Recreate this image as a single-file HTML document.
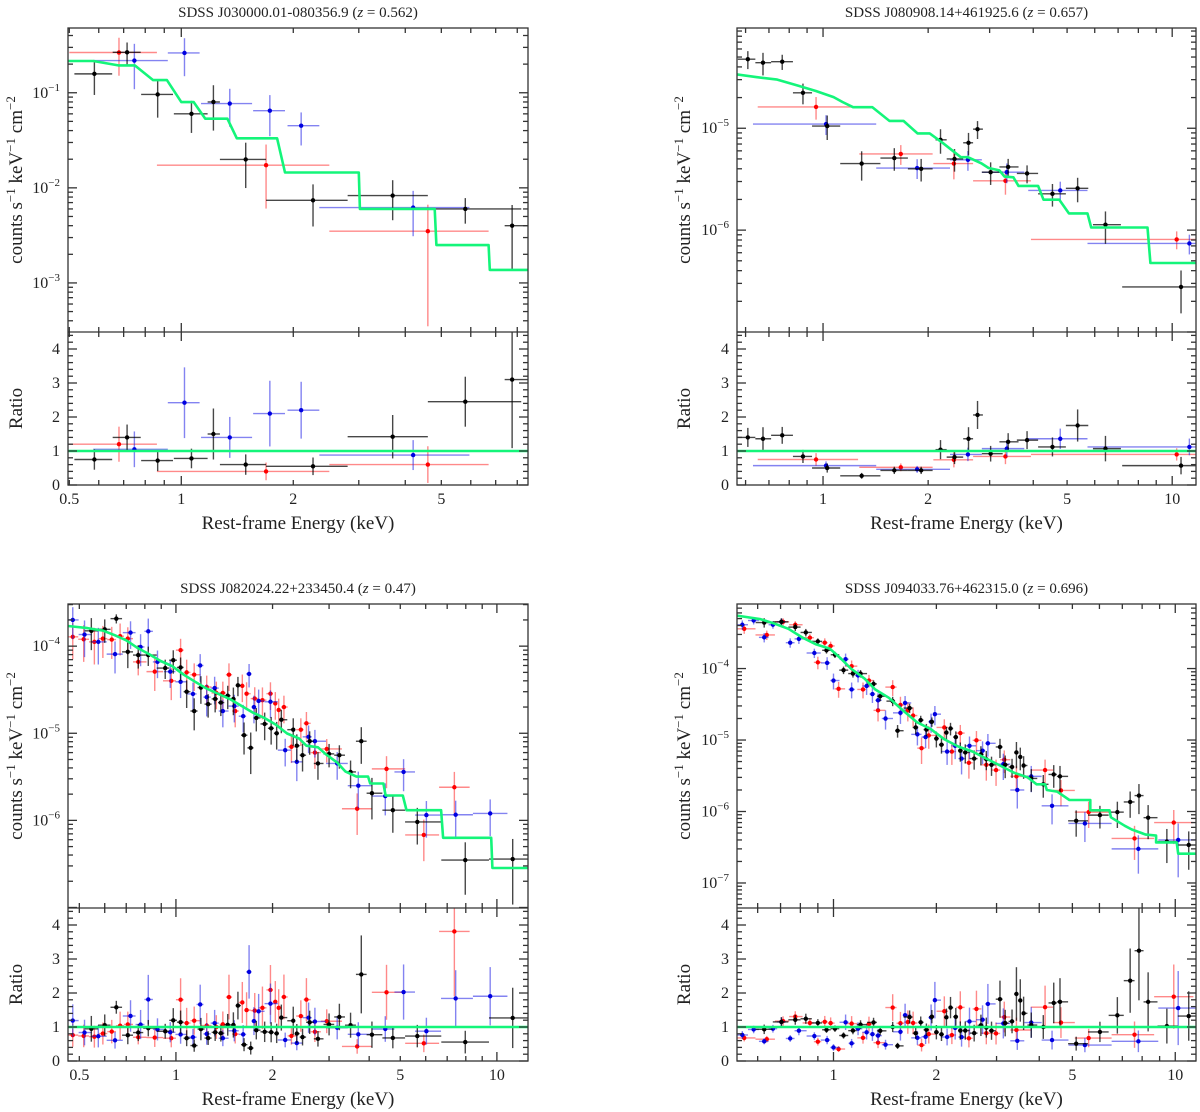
<!DOCTYPE html>
<html><head><meta charset="utf-8"><style>
html,body{margin:0;padding:0;background:#fff;}
svg{display:block;font-family:"Liberation Serif",serif;}
svg text{font-family:"Liberation Serif",serif;}
</style></head>
<body>
<svg id="fig" width="1200" height="1112" viewBox="0 0 1200 1112" font-family="Liberation Serif, serif" xmlns="http://www.w3.org/2000/svg"></svg>
<script>
// ---------- Panel 1: SDSS J030000.01-080356.9 ----------
const p1_black_E  = [0.584,0.715,0.864,1.065,1.22,1.49,2.26,3.7,5.8,7.75];
const p1_black_V  = [0.158,0.266,0.096,0.060,0.080,0.0199,0.0074,0.0083,0.0060,0.0040];
const p1_black_R  = [0.75,1.4,0.72,0.78,1.5,0.6,0.55,1.42,2.45,3.1];
const p1_black_F  = [.4,.27,.43,.37,.5,.5,.47,.45,.3,.65];
const p1_black_lo = [0.516,0.654,0.78,0.955,1.177,1.27,1.69,2.8,4.6,7.4];
const p1_black_hi = [0.652,0.778,0.95,1.177,1.27,1.69,2.8,4.6,8.2,8.55];
const p1_red_E  = [0.68,1.69,4.6];
const p1_red_V  = [0.265,0.0173,0.0035];
const p1_red_R  = [1.2,0.4,0.6];
const p1_red_F  = [.43,.65,.9];
const p1_red_lo = [0.5,0.86,2.5];
const p1_red_hi = [0.86,2.5,6.7];
const p1_blue_E  = [0.748,1.02,1.35,1.73,2.1,4.2];
const p1_blue_V  = [0.218,0.262,0.077,0.0647,0.045,0.0062];
const p1_blue_R  = [1.05,2.42,1.4,2.1,2.2,0.88];
const p1_blue_F  = [.5,.43,.43,.46,.38,.5];
const p1_blue_lo = [0.58,0.92,1.13,1.56,1.93,2.35];
const p1_blue_hi = [0.92,1.12,1.55,1.9,2.35,5.95];
const p1_model_E = [0.496,0.58,0.677,0.75,0.84,0.915,1.0,1.08,1.16,1.33,1.41,1.81,1.90,3.0,3.02,4.8,4.85,6.7,6.75,8.55];
const p1_model_V = [0.216,0.216,0.194,0.194,0.136,0.136,0.0798,0.0798,0.0534,0.0534,0.0332,0.0332,0.0145,0.0145,0.006,0.006,0.0025,0.0025,0.00137,0.00137];

// ---------- Panel 2: SDSS J080908.14+461925.6 ----------
const p2_black_E  = [0.609,0.673,0.764,0.876,1.028,1.29,1.60,1.91,2.17,2.38,2.61,2.77,3.02,3.39,3.84,4.54,5.36,6.44,10.6];
const p2_black_V  = [4.76e-5,4.4e-5,4.5e-5,2.23e-5,1.05e-5,4.5e-6,5.1e-6,4.0e-6,7.7e-6,5.0e-6,7.2e-6,9.8e-6,3.7e-6,4.17e-6,3.6e-6,2.27e-6,2.57e-6,1.13e-6,2.77e-7];
const p2_black_R  = [1.4,1.36,1.46,0.84,0.5,0.27,0.43,0.43,1.04,0.82,1.36,2.06,0.92,1.27,1.32,1.12,1.75,1.07,0.57];
const p2_black_F  = [.2,.25,.17,.23,.27,.32,.25,.25,.27,.25,.25,.2,.25,.2,.2,.25,.27,.35,.45];
const p2_black_lo = [0.57,0.64,0.71,0.82,0.93,1.12,1.46,1.75,2.1,2.26,2.52,2.69,2.85,3.2,3.59,4.13,4.96,5.93,7.19];
const p2_black_hi = [0.64,0.71,0.82,0.93,1.12,1.46,1.75,2.06,2.26,2.52,2.69,2.87,3.27,3.63,4.13,4.96,5.75,7.13,11.9];
const p2_red_E  = [0.955,1.67,2.37,3.33,10.3];
const p2_red_V  = [1.62e-5,5.6e-6,4.5e-6,3.05e-6,8.1e-7];
const p2_red_R  = [0.75,0.52,0.74,0.84,0.9];
const p2_red_F  = [.25,.22,.3,.27,.2];
const p2_red_lo = [0.65,1.27,2.07,2.69,3.94];
const p2_red_hi = [1.26,2.06,2.69,3.94,11.9];
const p2_blue_E  = [1.02,1.86,2.6,3.36,4.78,11.2];
const p2_blue_V  = [1.1e-5,4.07e-6,4.9e-6,3.7e-6,2.45e-6,7.4e-7];
const p2_blue_R  = [0.57,0.46,0.9,1.07,1.36,1.12];
const p2_blue_F  = [.22,.22,.22,.22,.22,.22];
const p2_blue_lo = [0.63,1.42,2.31,2.85,3.87,5.72];
const p2_blue_hi = [1.42,2.31,2.85,3.77,5.72,11.9];
const p2_model_E = [0.566,0.643,0.739,0.85,0.954,1.072,1.137,1.219,1.385,1.549,1.7,1.865,2.02,2.2,2.48,2.6,2.85,2.98,3.2,3.31,3.51,3.63,4.13,4.28,4.75,5.06,5.72,5.86,8.5,8.66,11.9];
const p2_model_V = [3.38e-5,3.18e-5,3.0e-5,2.61e-5,2.32e-5,2.02e-5,1.81e-5,1.61e-5,1.61e-5,1.18e-5,1.18e-5,8.9e-6,8.9e-6,7.2e-6,5.2e-6,5.2e-6,4.5e-6,4.07e-6,3.86e-6,3.35e-6,3.3e-6,2.72e-6,2.72e-6,1.99e-6,1.99e-6,1.46e-6,1.46e-6,1.06e-6,1.06e-6,4.76e-7,4.76e-7];

// ---------- Panel 3: SDSS J082024.22+233450.4 ----------
const p3_black_E = [0.545,0.60,0.652,0.708,0.763,0.82,0.926,0.981,1.034,1.08,1.14,1.196,1.26,1.325,1.38,1.45,1.51,1.56,1.63,1.71,1.78,1.89,1.98,2.06,2.13,2.32,2.38,2.48,2.61,2.77,3.0,3.23,3.5,3.78,4.08,4.74,5.65,7.97,11.2];
const p3_black_V = [1.5e-4,1.56e-4,2.07e-4,8.6e-5,7.9e-5,7.9e-5,5.6e-5,6.9e-5,5.7e-5,3.0e-5,1.8e-5,3.35e-5,2.16e-5,2.48e-5,2.25e-5,2.7e-5,2.48e-5,3.55e-5,9.5e-6,6.8e-6,1.5e-5,1.28e-5,1.14e-5,1.0e-5,1.43e-5,1.1e-5,7.2e-6,5.6e-6,8.1e-6,4.5e-6,5.8e-6,5.6e-6,3.6e-6,8.1e-6,2.05e-6,1.31e-6,9.6e-7,3.5e-7,3.6e-7];
const p3_black_F = [.4,.3,.12,.35,.3,.25,.25,.3,.3,.35,.4,.35,.3,.3,.3,.3,.35,.25,.4,.5,.3,.35,.35,.35,.3,.35,.35,.35,.3,.35,.3,.3,.35,.45,.5,.45,.45,.6,.7];
const p3_red_E = [0.477,0.516,0.557,0.592,0.631,0.67,0.708,0.763,0.859,0.967,1.034,1.08,1.14,1.247,1.336,1.4,1.463,1.53,1.61,1.66,1.76,1.86,1.97,2.04,2.09,2.17,2.29,2.45,2.55,2.71,2.95,3.67,4.53,5.92,7.37];
const p3_red_V = [1.28e-4,1.2e-4,1.12e-4,1.22e-4,1.19e-4,1.3e-4,1.22e-4,6.6e-5,5.1e-5,4.0e-5,9.0e-5,5.0e-5,4.7e-5,3.4e-5,2.9e-5,2.9e-5,4.7e-5,1.8e-5,3.5e-5,2.85e-5,2.5e-5,2.4e-5,2.85e-5,2.2e-5,1.85e-5,2.0e-5,7.0e-6,1.1e-5,1.3e-5,6.0e-6,6.6e-6,1.36e-6,3.9e-6,6.8e-7,2.4e-6];
const p3_red_F = [.45,.45,.45,.4,.4,.4,.35,.3,.4,.4,.35,.4,.35,.35,.35,.35,.35,.35,.35,.35,.35,.4,.35,.35,.35,.35,.35,.35,.35,.35,.3,.5,.4,.5,.5];
const p3_blue_E = [0.477,0.519,0.573,0.646,0.722,0.776,0.82,0.876,0.96,1.034,1.13,1.19,1.247,1.32,1.4,1.52,1.62,1.69,1.75,1.81,1.97,2.19,2.38,2.59,2.71,3.18,3.7,4.49,5.12,6.03,7.44,9.53];
const p3_blue_V = [2.0e-4,1.36e-4,1.12e-4,8.1e-5,1.43e-4,9.8e-5,1.48e-4,6.6e-5,5.1e-5,3.9e-5,2.83e-5,6.0e-5,2.6e-5,3.3e-5,1.8e-5,2.05e-5,1.57e-5,4.8e-5,2.0e-5,2.35e-5,2.3e-5,6.4e-6,4.7e-6,9.1e-6,8.1e-6,4.5e-6,2.5e-6,1.9e-6,3.6e-6,1.15e-6,1.16e-6,1.2e-6];
const p3_blue_F = [.4,.45,.45,.4,.35,.4,.4,.35,.35,.35,.35,.35,.4,.35,.35,.35,.35,.3,.35,.35,.35,.35,.4,.35,.35,.35,.45,.4,.4,.45,.45,.45];
const p3_model_E = [0.458,0.53,0.592,0.643,0.699,0.759,0.824,0.896,0.973,1.057,1.148,1.247,1.354,1.47,1.6,1.74,1.885,2.05,2.22,2.42,2.55,2.77,2.93,3.18,3.37,3.65,3.97,4.03,4.43,4.5,5.09,5.23,6.7,6.8,9.6,9.68,12.6];
const p3_model_V = [1.71e-4,1.61e-4,1.51e-4,1.34e-4,1.17e-4,9.55e-5,8.1e-5,6.76e-5,5.9e-5,4.7e-5,3.9e-5,3.26e-5,2.84e-5,2.48e-5,2.06e-5,1.72e-5,1.5e-5,1.25e-5,9.95e-6,8.7e-6,7.2e-6,6.9e-6,5.75e-6,4.6e-6,3.65e-6,3.18e-6,3.18e-6,2.65e-6,2.65e-6,1.93e-6,1.93e-6,1.31e-6,1.31e-6,6.3e-7,6.3e-7,2.84e-7,2.84e-7];

// ---------- Panel 4: SDSS J094033.76+462315.0 ----------
const p4_black_E = [0.627,0.704,0.773,0.83,0.9,0.954,1.01,1.07,1.14,1.2,1.31,1.37,1.49,1.54,1.67,1.74,1.80,1.87,1.94,2.0,2.07,2.14,2.2,2.28,2.35,2.43,2.58,2.7,2.8,2.9,3.07,3.18,3.33,3.43,3.52,3.6,3.79,4.11,4.41,4.6,5.13,6.02,6.77,7.38,7.83,8.33,9.45,10.95];
const p4_black_V = [4.4e-4,4.5e-4,3.8e-4,3.2e-4,2.4e-4,1.8e-4,1.56e-4,9.5e-5,8.5e-5,8.5e-5,6.1e-5,4.1e-5,3.5e-5,1.35e-5,2.8e-5,1.5e-5,1.9e-5,1.4e-5,1.8e-5,1.05e-5,8.6e-6,1.27e-5,1.45e-5,1.1e-5,7.1e-6,6.7e-6,5.5e-6,6.3e-6,5.4e-6,4.5e-6,8.0e-6,4.5e-6,4.2e-6,6.7e-6,5.8e-6,4.4e-6,2.9e-6,2.4e-6,3.3e-6,3.1e-6,7.4e-7,8.9e-7,9.8e-7,1.36e-6,1.67e-6,8.2e-7,3.8e-7,3.4e-7];
const p4_black_F = [.15,.12,.12,.12,.1,.1,.1,.12,.12,.12,.12,.15,.15,.2,.15,.2,.15,.2,.15,.25,.25,.2,.2,.2,.3,.3,.3,.3,.3,.3,.3,.35,.3,.4,.35,.35,.35,.35,.35,.4,.4,.35,.4,.4,.45,.5,.5,.55];
const p4_red_E = [0.548,0.638,0.712,0.773,0.853,0.9,0.943,0.981,1.035,1.13,1.22,1.27,1.35,1.49,1.57,1.65,1.71,1.81,1.9,2.11,2.22,2.35,2.49,2.62,2.8,2.99,3.16,3.43,4.16,4.63,5.58,7.6,9.9];
const p4_red_V = [3.6e-4,2.95e-4,4.5e-4,4.1e-4,2.7e-4,1.22e-4,2.3e-4,2.07e-4,5.2e-5,1.08e-4,5.1e-5,6.8e-5,2.6e-5,5.5e-5,3.1e-5,2.6e-5,2.2e-5,7.7e-6,1.16e-5,1.5e-5,6.9e-6,1.25e-5,4.8e-6,9.9e-6,4.5e-6,3.8e-6,5.3e-6,3.1e-6,3.8e-6,1.97e-6,9.8e-7,4.2e-7,7.0e-7];
const p4_red_F = [.15,.15,.12,.12,.12,.2,.15,.15,.25,.2,.25,.2,.3,.25,.3,.3,.3,.4,.35,.3,.35,.3,.4,.35,.4,.4,.35,.4,.4,.4,.4,.5,.5];
const p4_blue_E = [0.541,0.584,0.627,0.665,0.704,0.747,0.792,0.879,0.958,1.0,1.085,1.13,1.18,1.25,1.3,1.35,1.42,1.57,1.62,1.76,1.86,1.93,1.98,2.15,2.27,2.37,2.5,2.73,2.83,3.14,3.45,3.79,4.36,5.44,7.8,10.2];
const p4_blue_V = [4.1e-4,4.7e-4,2.73e-4,4.1e-4,4.5e-4,2.3e-4,2.6e-4,1.65e-4,1.2e-4,6.8e-5,1.35e-4,5.1e-5,8.0e-5,5.7e-5,4.4e-5,3.6e-5,2.0e-5,2.4e-5,3.3e-5,1.2e-5,1.1e-5,1.8e-5,2.3e-5,6.9e-6,8.3e-6,5.5e-6,8.3e-6,7.1e-6,9.0e-6,4.6e-6,2.0e-6,3.1e-6,1.2e-6,6.8e-7,3.0e-7,4.0e-7];
const p4_blue_F = [.15,.12,.15,.12,.12,.15,.15,.15,.2,.25,.2,.25,.2,.25,.25,.25,.3,.3,.25,.3,.3,.3,.3,.35,.35,.4,.35,.35,.35,.4,.45,.4,.45,.45,.55,.7];
const p4_model_E = [0.522,0.612,0.672,0.738,0.81,0.89,0.977,1.048,1.124,1.234,1.324,1.453,1.596,1.753,1.925,2.113,2.32,2.55,2.8,3.07,3.37,3.7,3.93,4.16,4.21,4.51,4.9,5.64,5.64,6.42,6.48,7.12,7.46,8.2,8.79,8.79,10.1,10.2,11.7];
const p4_model_V = [5.5e-4,4.9e-4,4.25e-4,3.6e-4,2.73e-4,2.18e-4,1.89e-4,1.4e-4,1.0e-4,7.2e-5,5.1e-5,3.9e-5,2.6e-5,1.78e-5,1.42e-5,1.02e-5,8.1e-6,6.9e-6,5.5e-6,4.4e-6,3.5e-6,3.0e-6,2.4e-6,2.4e-6,2.0e-6,1.9e-6,1.45e-6,1.45e-6,1.04e-6,1.04e-6,8.3e-7,6.3e-7,5.6e-7,4.75e-7,4.6e-7,3.7e-7,3.7e-7,2.57e-7,2.57e-7];

// Axis tick labels
const p1_xticks = [0.5,1,2,5];
const p2_xticks = [1,2,5,10];
const p3_xticks = [0.5,1,2,5,10];
const p4_xticks = [1,2,5,10];
const p1_yexp = [-1,-2,-3];
const p2_yexp = [-5,-6];
const p3_yexp = [-4,-5,-6];
const p4_yexp = [-4,-5,-6,-7];
const ratio_ticks = [0,1,2,3,4];

const NS = "http://www.w3.org/2000/svg";
const svg = document.getElementById('fig');
function mk(tag, attrs, parent){
  const e = document.createElementNS(NS, tag);
  for (const k in attrs) e.setAttribute(k, attrs[k]);
  (parent||svg).appendChild(e);
  return e;
}
const COL = {
  black:{pt:'#000', bar:'rgba(0,0,0,0.72)'},
  red:{pt:'#ff0000', bar:'rgba(255,40,40,0.55)'},
  blue:{pt:'#0000e0', bar:'rgba(30,30,230,0.55)'}
};
const FONT = '"Liberation Serif", serif';

function panel(cfg){
  const g = mk('g', {'font-family':FONT});
  
  
  const L=cfg.l, R=cfg.r, T=cfg.t, M=cfg.m, B=cfg.b;
  const lx0=Math.log10(cfg.xr[0]), lx1=Math.log10(cfg.xr[1]);
  const X = e => L + (Math.log10(e)-lx0)/(lx1-lx0)*(R-L);
  const Y = v => M - (Math.log10(v)-cfg.yr[0])/(cfg.yr[1]-cfg.yr[0])*(M-T);
  const YR = r => B - r/4.5*(B-M);
  const cid = cfg.name+'-clip', cid2 = cfg.name+'-clip2';
  const defs = mk('defs',{},g);
  const c1 = mk('clipPath',{id:cid},defs); mk('rect',{x:L,y:T,width:R-L,height:M-T},c1);
  const c2 = mk('clipPath',{id:cid2},defs); mk('rect',{x:L,y:M,width:R-L,height:B-M},c2);

  const mE=cfg.model.E, mV=cfg.model.V;
  function model(e){
    if (e<=mE[0]) return mV[0];
    for (let i=0;i<mE.length-1;i++){
      if (e>=mE[i] && e<=mE[i+1]){
        if (mE[i+1]===mE[i]) return mV[i];
        const t=(Math.log10(e)-Math.log10(mE[i]))/(Math.log10(mE[i+1])-Math.log10(mE[i]));
        return Math.pow(10, Math.log10(mV[i])+t*(Math.log10(mV[i+1])-Math.log10(mV[i])));
      }
    }
    return mV[mV.length-1];
  }

  const gs = mk('g',{'clip-path':'url(#'+cid+')'},g);
  const gr = mk('g',{'clip-path':'url(#'+cid2+')'},g);
  cfg.series.forEach(s=>{
    const c = COL[s.color];
    const sg = mk('g',{},gs);
    
    
    const rg = mk('g',{},gr);
    
    
    const n = s.E.length;
    for (let i=0;i<n;i++){
      const e=s.E[i], v=s.V[i], f=(s.F && s.F[i]!==undefined)?s.F[i]:0.3;
      let lo, hi;
      if (s.lo){ lo=s.lo[i]; hi=s.hi[i]; }
      else {
        const prev = i>0 ? s.E[i-1] : e*e/s.E[i+1];
        const next = i<n-1 ? s.E[i+1] : e*e/s.E[i-1];
        lo=Math.sqrt(prev*e); hi=Math.sqrt(next*e);
      }
      const x=X(e), y=Y(v);
      const vlo = v*(1-f) > 0 ? Y(v*(1-f)) : M+10;
      mk('line',{x1:X(lo),x2:X(hi),y1:y,y2:y,stroke:c.bar,'stroke-width':1.4},sg);
      mk('line',{x1:x,x2:x,y1:Y(v*(1+f)),y2:vlo,stroke:c.bar,'stroke-width':1.4},sg);
      const p = mk('circle',{cx:x,cy:y,r:2.2,fill:c.pt},sg);
      
      
      const r = (s.R && s.R[i]!==undefined) ? s.R[i] : v/model(e);
      const yr=YR(r);
      mk('line',{x1:X(lo),x2:X(hi),y1:yr,y2:yr,stroke:c.bar,'stroke-width':1.4},rg);
      mk('line',{x1:x,x2:x,y1:YR(r*(1+f)),y2:YR(Math.max(r*(1-f),-0.2)),stroke:c.bar,'stroke-width':1.4},rg);
      const q = mk('circle',{cx:x,cy:yr,r:2.2,fill:c.pt},rg);
      
      
    }
  });
  let d='';
  for (let i=0;i<mE.length;i++) d += (i?'L':'M')+X(mE[i]).toFixed(1)+','+Y(mV[i]).toFixed(1);
  const ml = mk('path',{d:d,fill:'none',stroke:'#14f57a','stroke-width':2.6,'stroke-linejoin':'round'},gs);
  
  
  const ul = mk('line',{x1:L,x2:R,y1:YR(1),y2:YR(1),stroke:'#14f57a','stroke-width':2.6},gr);
  
  

  const ax = mk('g',{stroke:'#333','stroke-width':1.3,fill:'none'},g);
  
  
  mk('rect',{x:L,y:T,width:R-L,height:B-T},ax);
  mk('line',{x1:L,x2:R,y1:M,y2:M},ax);
  const d0=Math.floor(lx0), d1=Math.ceil(lx1);
  for (let dd=d0; dd<=d1; dd++){
    for (let k=1;k<=9;k++){
      const e=k*Math.pow(10,dd);
      if (e<cfg.xr[0]||e>cfg.xr[1]) continue;
      const x=X(e), len=(k===1)?9:5;
      [T,M,B].forEach(yy=>{
        if (yy!==T) mk('line',{x1:x,x2:x,y1:yy,y2:yy-len},ax);
        if (yy!==B) mk('line',{x1:x,x2:x,y1:yy,y2:yy+len},ax);
      });
    }
  }
  for (let dd=Math.floor(cfg.yr[0]); dd<=Math.ceil(cfg.yr[1]); dd++){
    for (let k=1;k<=9;k++){
      const lv=dd+Math.log10(k);
      if (lv<cfg.yr[0]||lv>cfg.yr[1]) continue;
      const y=Y(Math.pow(10,lv)), len=(k===1)?9:5;
      mk('line',{x1:L,x2:L+len,y1:y,y2:y},ax);
      mk('line',{x1:R,x2:R-len,y1:y,y2:y},ax);
    }
  }
  for (let i=0;i<=22;i++){
    const r=i*0.2; if (r>4.5) continue;
    const y=YR(r), len=(i%5===0)?9:5;
    mk('line',{x1:L,x2:L+len,y1:y,y2:y},ax);
    mk('line',{x1:R,x2:R-len,y1:y,y2:y},ax);
  }
  const tx = mk('g',{fill:'#222','font-size':16,'font-family':FONT},g);
  cfg.xt.forEach(v=>{
    const t=mk('text',{x:X(v),y:B+19,'text-anchor':'middle'},tx);
    t.textContent=String(v);
    
    
  });
  cfg.ye.forEach(ex=>{
    const t=mk('text',{x:L-8,y:Y(Math.pow(10,ex))+5,'text-anchor':'end'},tx);
    
    
    const a=mk('tspan',{},t); a.textContent='10';
    const b=mk('tspan',{dy:-7,'font-size':11}); t.appendChild(b); b.textContent='\u2212'+Math.abs(ex);
  });
  ratio_ticks.forEach(r=>{
    const t=mk('text',{x:L-8,y:YR(r)+5,'text-anchor':'end'},tx);
    t.textContent=String(r);
    
    
  });
  const tt=mk('text',{x:(L+R)/2,y:T-11,'text-anchor':'middle','font-size':15,fill:'#222','font-family':FONT},g);
  
  
  const t1=mk('tspan',{},tt); t1.textContent=cfg.title+' (';
  const t2=mk('tspan',{'font-style':'italic'},tt); t2.textContent='z';
  const t3=mk('tspan',{},tt); t3.textContent=' = '+cfg.z+')';
  const xl=mk('text',{x:(L+R)/2,y:B+44,'text-anchor':'middle','font-size':19,fill:'#222','font-family':FONT},g);
  xl.textContent='Rest-frame Energy (keV)';
  
  
  const yc=(T+M)/2, yx=cfg.ylx;
  const yl=mk('text',{x:yx,y:yc,'text-anchor':'middle','font-size':19,fill:'#222','font-family':FONT,transform:'rotate(-90 '+yx+' '+yc+')'},g);
  
  
  const parts=[['counts s',0],['\u22121',1],[' keV',0],['\u22121',1],[' cm',0],['\u22122',1]];
  parts.forEach(p=>{
    const s=mk('tspan',{},yl);
    if (p[1]){ s.setAttribute('dy',-7); s.setAttribute('font-size',13); }
    else { s.setAttribute('dy', 7); }
    s.textContent=p[0];
  });
  yl.firstChild.setAttribute('dy',0);
  const rc=(M+B)/2;
  const rl=mk('text',{x:yx,y:rc,'text-anchor':'middle','font-size':19,fill:'#222','font-family':FONT,transform:'rotate(-90 '+yx+' '+rc+')'},g);
  rl.textContent='Ratio';
  
  
}

panel({name:'panel-j0300', title:'SDSS J030000.01-080356.9', z:'0.562', l:68,r:528,t:28,m:332,b:485,
  xr:[0.496,8.55], yr:[-3.516,-0.319], xt:p1_xticks, ye:p1_yexp, ylx:22,
  model:{E:p1_model_E,V:p1_model_V},
  series:[{color:'red',E:p1_red_E,V:p1_red_V,R:p1_red_R,F:p1_red_F,lo:p1_red_lo,hi:p1_red_hi},
          {color:'blue',E:p1_blue_E,V:p1_blue_V,R:p1_blue_R,F:p1_blue_F,lo:p1_blue_lo,hi:p1_blue_hi},
          {color:'black',E:p1_black_E,V:p1_black_V,R:p1_black_R,F:p1_black_F,lo:p1_black_lo,hi:p1_black_hi}]});
panel({name:'panel-j0809', title:'SDSS J080908.14+461925.6', z:'0.657', l:737,r:1196,t:28,m:332,b:485,
  xr:[0.567,11.7], yr:[-7.0,-4.016], xt:p2_xticks, ye:p2_yexp, ylx:690,
  model:{E:p2_model_E,V:p2_model_V},
  series:[{color:'red',E:p2_red_E,V:p2_red_V,R:p2_red_R,F:p2_red_F,lo:p2_red_lo,hi:p2_red_hi},
          {color:'blue',E:p2_blue_E,V:p2_blue_V,R:p2_blue_R,F:p2_blue_F,lo:p2_blue_lo,hi:p2_blue_hi},
          {color:'black',E:p2_black_E,V:p2_black_V,R:p2_black_R,F:p2_black_F,lo:p2_black_lo,hi:p2_black_hi}]});
panel({name:'panel-j0820', title:'SDSS J082024.22+233450.4', z:'0.47', l:68,r:528,t:604,m:908,b:1061,
  xr:[0.461,12.5], yr:[-7.006,-3.516], xt:p3_xticks, ye:p3_yexp, ylx:22,
  model:{E:p3_model_E,V:p3_model_V},
  series:[{color:'red',E:p3_red_E,V:p3_red_V,F:p3_red_F},
          {color:'blue',E:p3_blue_E,V:p3_blue_V,F:p3_blue_F},
          {color:'black',E:p3_black_E,V:p3_black_V,F:p3_black_F}]});
panel({name:'panel-j0940', title:'SDSS J094033.76+462315.0', z:'0.696', l:737,r:1196,t:604,m:908,b:1061,
  xr:[0.522,11.5], yr:[-7.35,-3.097], xt:p4_xticks, ye:p4_yexp, ylx:690,
  model:{E:p4_model_E,V:p4_model_V},
  series:[{color:'red',E:p4_red_E,V:p4_red_V,F:p4_red_F},
          {color:'blue',E:p4_blue_E,V:p4_blue_V,F:p4_blue_F},
          {color:'black',E:p4_black_E,V:p4_black_V,F:p4_black_F}]});
</script>
</body></html>
